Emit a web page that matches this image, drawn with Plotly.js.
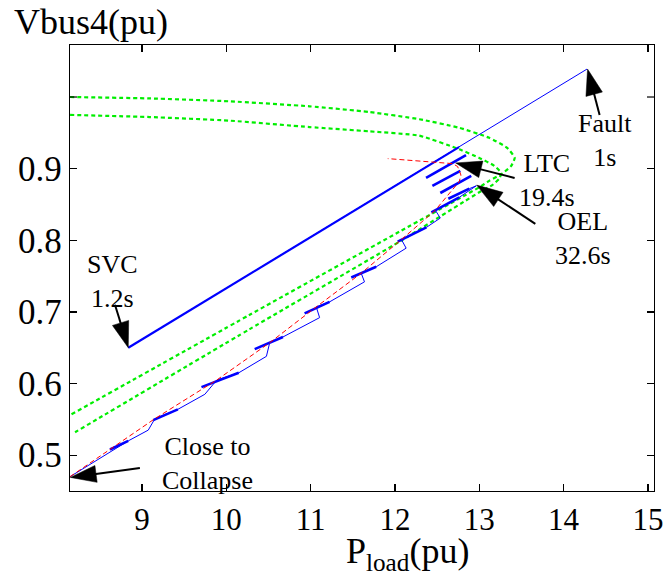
<!DOCTYPE html>
<html>
<head>
<meta charset="utf-8">
<script src="https://cdn.plot.ly/plotly-3.0.1.min.js"></script>
<style>html,body{margin:0;padding:0;background:#fff;}#chart{width:663px;height:575px;}</style>
</head>
<body>
<div id="chart"></div>
<script>
// ---- data ----
const xTickVals = [9, 10, 11, 12, 13, 14, 15];
const yTickVals = [0.5, 0.6, 0.7, 0.8, 0.9];
const yUnlabeledTick = 1.0;

// PV nose curves (green dotted)
const pvOuterX = [8.148, 9.095, 10.041, 10.988, 11.698, 12.290, 12.763, 13.118, 13.331, 13.420, 13.379, 13.272, 13.118, 13.000, 12.053, 10.278, 8.148];
const pvOuterY = [1.000, 0.998, 0.994, 0.987, 0.979, 0.969, 0.957, 0.943, 0.929, 0.915, 0.904, 0.893, 0.883, 0.874, 0.812, 0.696, 0.556];
const pvInnerX = [8.148, 9.095, 10.041, 10.988, 11.698, 12.290, 12.763, 13.000, 13.178, 13.260, 13.237, 13.154, 13.000, 12.053, 10.278, 8.207];
const pvInnerY = [0.975, 0.972, 0.967, 0.958, 0.952, 0.946, 0.927, 0.915, 0.904, 0.894, 0.886, 0.877, 0.867, 0.798, 0.676, 0.532];

// Fault -> SVC trajectory (blue thin) and recovery (blue thick)
const faultLineX = [14.278, 8.838];
const faultLineY = [1.039, 0.650];
const recoveryX = [8.838, 12.760];
const recoveryY = [0.650, 0.930];

// staircase towards collapse (blue thin)
const stairX = [8.148, 8.838, 9.075, 9.154, 9.426, 9.746, 9.888, 10.148, 10.476, 10.515, 10.672, 11.107, 11.067, 11.225, 11.639, 11.600, 11.778, 12.133, 12.077, 12.373, 12.538, 12.479, 12.763, 12.964, 12.882];
const stairY = [0.470, 0.520, 0.535, 0.551, 0.564, 0.585, 0.605, 0.615, 0.638, 0.657, 0.665, 0.692, 0.707, 0.714, 0.742, 0.754, 0.763, 0.789, 0.801, 0.818, 0.831, 0.842, 0.860, 0.876, 0.872];

// thick segments of the staircase (null separates segments)
const stepThickX = [8.621, 8.838, null, 9.134, 9.426, null, 9.706, 10.148, null, 10.337, 10.672, null, 10.929, 11.225, null, 11.482, 11.778, null, 12.033, 12.373, null, 12.432, 12.763, null, 12.633, 12.882, null, 12.538, 12.905, null, 12.444, 12.775, null, 12.369, 12.843];
const stepThickY = [0.508, 0.520, null, 0.549, 0.564, null, 0.595, 0.615, null, 0.648, 0.665, null, 0.698, 0.714, null, 0.748, 0.763, null, 0.798, 0.818, null, 0.839, 0.860, null, 0.858, 0.872, null, 0.866, 0.890, null, 0.876, 0.897, null, 0.887, 0.919];

// long-term equilibrium (red dashed)
const redX = [8.148, 9.154, 9.888, 10.515, 11.067, 11.600, 12.077, 12.479, 12.763, 12.783, 12.743, 12.684, 11.915];
const redY = [0.470, 0.551, 0.605, 0.657, 0.707, 0.754, 0.801, 0.842, 0.882, 0.891, 0.903, 0.907, 0.914];

// event labels and arrows (tip/tail in data units)
const labels = [
  {text: 'Fault<br>1s', x: 14.49, y: 0.939},
  {text: 'LTC<br>19.4s', x: 13.80, y: 0.884},
  {text: 'OEL<br>32.6s', x: 14.23, y: 0.803},
  {text: 'SVC<br>1.2s', x: 8.656, y: 0.743},
  {text: 'Close to<br>Collapse', x: 9.775, y: 0.489}
];
const arrows = [
  {tip: [14.284, 1.039], tail: [14.427, 0.975]},
  {tip: [12.720, 0.908], tail: [13.419, 0.887]},
  {tip: [12.969, 0.877], tail: [13.665, 0.823]},
  {tip: [8.838, 0.650], tail: [8.680, 0.710]},
  {tip: [8.150, 0.469], tail: [8.976, 0.482]}
];

// ---- layout geometry ----
const W = 663, H = 575;
const M = {l: 70, r: 9, t: 45, b: 84};
const xRange = [8.147, 15.072];
const yRange = [0.45, 1.0726];
const pw = W - M.l - M.r, ph = H - M.t - M.b;
const toPx = (x, y) => [M.l + (x - xRange[0]) / (xRange[1] - xRange[0]) * pw,
                        M.t + (yRange[1] - y) / (yRange[1] - yRange[0]) * ph];
const toData = (px, py) => [xRange[0] + (px - M.l) / pw * (xRange[1] - xRange[0]),
                            yRange[1] - (py - M.t) / ph * (yRange[1] - yRange[0])];

const shapes = [];
// unlabeled tick at 1.0 on left and right edges (inside)
shapes.push({type: 'line', xref: 'paper', yref: 'y', x0: 0, x1: 7 / pw, y0: yUnlabeledTick, y1: yUnlabeledTick, line: {color: 'black', width: 1.2}});
shapes.push({type: 'line', xref: 'paper', yref: 'y', x0: 1 - 7 / pw, x1: 1, y0: yUnlabeledTick, y1: yUnlabeledTick, line: {color: 'black', width: 1.2}});

const headLen = 26, headHalf = 8.5;
arrows.forEach(a => {
  const [tx, ty] = toPx(a.tip[0], a.tip[1]);
  const [sx, sy] = toPx(a.tail[0], a.tail[1]);
  const dx = tx - sx, dy = ty - sy, L = Math.hypot(dx, dy);
  const ux = dx / L, uy = dy / L;
  const bx = tx - ux * headLen, by = ty - uy * headLen;
  const p1 = toData(tx, ty);
  const p2 = toData(bx - uy * headHalf, by + ux * headHalf);
  const p3 = toData(bx + uy * headHalf, by - ux * headHalf);
  const b = toData(bx + ux * 2, by + uy * 2);
  shapes.push({type: 'line', xref: 'x', yref: 'y', x0: a.tail[0], y0: a.tail[1], x1: b[0], y1: b[1],
               line: {color: 'black', width: 2}});
  shapes.push({type: 'path', xref: 'x', yref: 'y',
               path: `M${p1[0]},${p1[1]} L${p2[0]},${p2[1]} L${p3[0]},${p3[1]} Z`,
               fillcolor: 'black', line: {color: 'black', width: 0.5}});
});

const serif = 'Liberation Serif, Times New Roman, serif';
const annotations = labels.map(l => ({
  text: l.text, x: l.x, y: l.y, xref: 'x', yref: 'y', showarrow: false,
  font: {family: serif, size: 26, color: 'black'}, align: 'center'
}));
annotations.push({text: 'Vbus4(pu)', xref: 'paper', yref: 'paper', x: (12 - M.l) / pw, y: (H - M.b - 22) / ph,
  xanchor: 'left', yanchor: 'middle', showarrow: false, font: {family: serif, size: 36, color: 'black'}});
annotations.push({text: 'P<sub>load</sub>(pu)', xref: 'paper', yref: 'paper', x: (407 - M.l) / pw, y: (H - M.b - 553) / ph,
  xanchor: 'center', yanchor: 'middle', showarrow: false, font: {family: serif, size: 36, color: 'black'}});

const traces = [
  {x: pvOuterX, y: pvOuterY, mode: 'lines', line: {color: '#00ee00', width: 2.2, dash: '4px,3px', shape: 'spline', smoothing: 0.5}},
  {x: pvInnerX, y: pvInnerY, mode: 'lines', line: {color: '#00ee00', width: 2.2, dash: '4px,3px', shape: 'spline', smoothing: 0.5}},
  {x: faultLineX, y: faultLineY, mode: 'lines', line: {color: '#0000ff', width: 1}},
  {x: recoveryX, y: recoveryY, mode: 'lines', line: {color: '#0000ff', width: 2.2}},
  {x: stairX, y: stairY, mode: 'lines', line: {color: '#0000ff', width: 1}},
  {x: stepThickX, y: stepThickY, mode: 'lines', connectgaps: false, line: {color: '#0000ff', width: 2.6}},
  {x: redX, y: redY, mode: 'lines', line: {color: '#ff0000', width: 1, dash: '5px,3px'}}
];

const layout = {
  width: W, height: H, margin: M, showlegend: false,
  paper_bgcolor: 'white', plot_bgcolor: 'white',
  font: {family: serif, color: 'black'},
  xaxis: {range: xRange, tickvals: xTickVals, ticks: 'inside', ticklen: 7, tickwidth: 1.2, tickcolor: 'black',
          showline: true, linecolor: 'black', linewidth: 1.3, mirror: 'ticks', showgrid: false, zeroline: false,
          ticklabeloverflow: 'allow', tickfont: {family: serif, size: 31, color: 'black'}},
  yaxis: {range: yRange, tickvals: yTickVals, ticks: 'inside', ticklen: 7, tickwidth: 1.2, tickcolor: 'black',
          showline: true, linecolor: 'black', linewidth: 1.3, mirror: 'ticks', showgrid: false, zeroline: false,
          tickformat: '.1f', ticklabeloverflow: 'allow', tickfont: {family: serif, size: 35, color: 'black'}},
  shapes: shapes,
  annotations: annotations
};

Plotly.newPlot('chart', traces, layout, {displayModeBar: false, staticPlot: true});
</script>
</body>
</html>
